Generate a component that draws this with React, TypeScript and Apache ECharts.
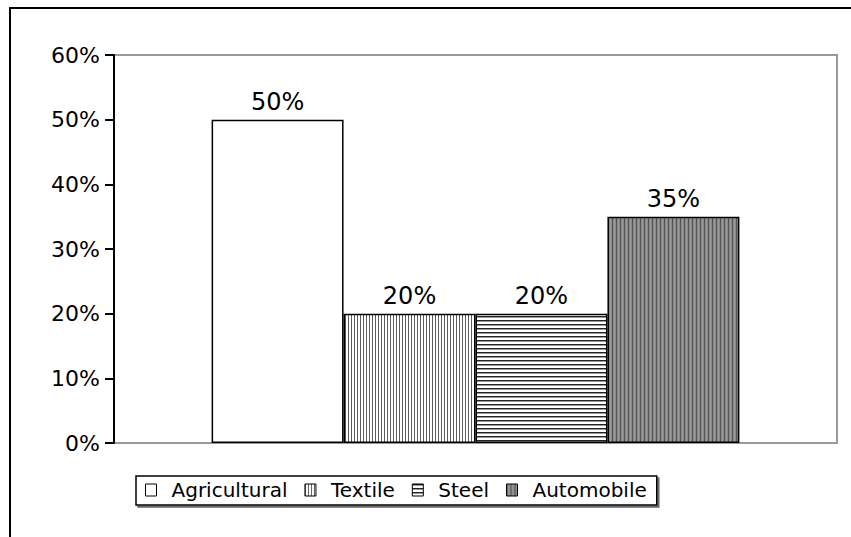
import React, { useEffect, useRef } from 'react';
import * as echarts from 'echarts';

const sectors = ['Agricultural', 'Textile', 'Steel', 'Automobile'];
const shares = [50, 20, 20, 35];
const categories = [''];
const yMin = 0;
const yMax = 60;
const yStep = 10;

type Painter = (ctx: CanvasRenderingContext2D) => void;

function makePattern(w: number, h: number, draw: Painter) {
  const c = document.createElement('canvas');
  c.width = w;
  c.height = h;
  const ctx = c.getContext('2d') as CanvasRenderingContext2D;
  draw(ctx);
  return { image: c, repeat: 'repeat', imageWidth: w, imageHeight: h } as any;
}

function columns(colors: string[]) {
  return makePattern(colors.length, 1, (ctx) => {
    colors.forEach((col, i) => {
      ctx.fillStyle = col;
      ctx.fillRect(i, 0, 1, 1);
    });
  });
}

function rows(colors: string[]) {
  return makePattern(1, colors.length, (ctx) => {
    colors.forEach((col, i) => {
      ctx.fillStyle = col;
      ctx.fillRect(0, i, 1, 1);
    });
  });
}

export default function App() {
  const ref = useRef<HTMLDivElement>(null);
  useEffect(() => {
    if (!ref.current) return;
    const chart = echarts.init(ref.current, null, { renderer: 'svg' });
    const fills: any[] = [
      '#ffffff',
      columns(['#5c5c5c', '#ffffff', '#ffffff']),
      rows(['#222222', '#999999', '#ffffff', '#ffffff']),
      columns(['#555555', '#888888', '#9c9c9c', '#888888']),
    ];
    const font = 'DejaVu Sans';
    chart.setOption({
      animation: false,
      backgroundColor: '#ffffff',
      graphic: [
        {
          type: 'rect',
          shape: { x: 10, y: 8, width: 900, height: 600 },
          style: { fill: 'none', stroke: '#000', lineWidth: 2 },
          z: 0,
        },
      ],
      grid: {
        left: 114,
        top: 55,
        right: 14,
        bottom: 94,
        show: true,
        borderColor: '#999999',
        borderWidth: 2,
        backgroundColor: 'transparent',
      },
      legend: {
        data: sectors,
        left: 136,
        top: 476,
        orient: 'horizontal',
        icon: 'rect',
        itemWidth: 11,
        itemHeight: 12,
        itemGap: 17,
        borderColor: '#000',
        borderWidth: 1.5,
        borderRadius: 0,
        backgroundColor: '#fff',
        shadowColor: '#666',
        shadowOffsetX: 2,
        shadowOffsetY: 2,
        shadowBlur: 0,
        padding: [4, 10, 5, 9],
        itemStyle: { borderColor: '#000', borderWidth: 1 },
        textStyle: {
          fontFamily: font,
          fontSize: 20,
          color: '#000',
          lineHeight: 20,
          padding: [0, 0, 0, 10],
        },
      },
      xAxis: {
        type: 'category',
        data: categories,
        axisLine: { show: false },
        axisTick: { show: false },
        axisLabel: { show: false },
      },
      yAxis: {
        type: 'value',
        min: yMin,
        max: yMax,
        interval: yStep,
        splitLine: { show: false },
        axisLine: { show: true, lineStyle: { color: '#000', width: 2 } },
        axisTick: { show: true, length: 9, lineStyle: { color: '#000', width: 2 } },
        axisLabel: {
          formatter: '{value}%',
          fontFamily: font,
          fontSize: 22,
          color: '#000',
          margin: 14,
        },
      },
      series: sectors.map((name, i) => ({
        name,
        type: 'bar',
        data: [shares[i]],
        barGap: '0%',
        barCategoryGap: '27%',
        itemStyle: { color: fills[i], borderColor: '#000', borderWidth: 1.5 },
        label: {
          show: true,
          position: 'top',
          distance: 6,
          formatter: '{c}%',
          fontFamily: font,
          fontSize: 24,
          color: '#000',
        },
      })),
    });
    return () => chart.dispose();
  }, []);
  return (
    <div
      ref={ref}
      style={{ position: 'fixed', left: 0, top: 0, width: 851, height: 537, background: '#fff' }}
    />
  );
}
